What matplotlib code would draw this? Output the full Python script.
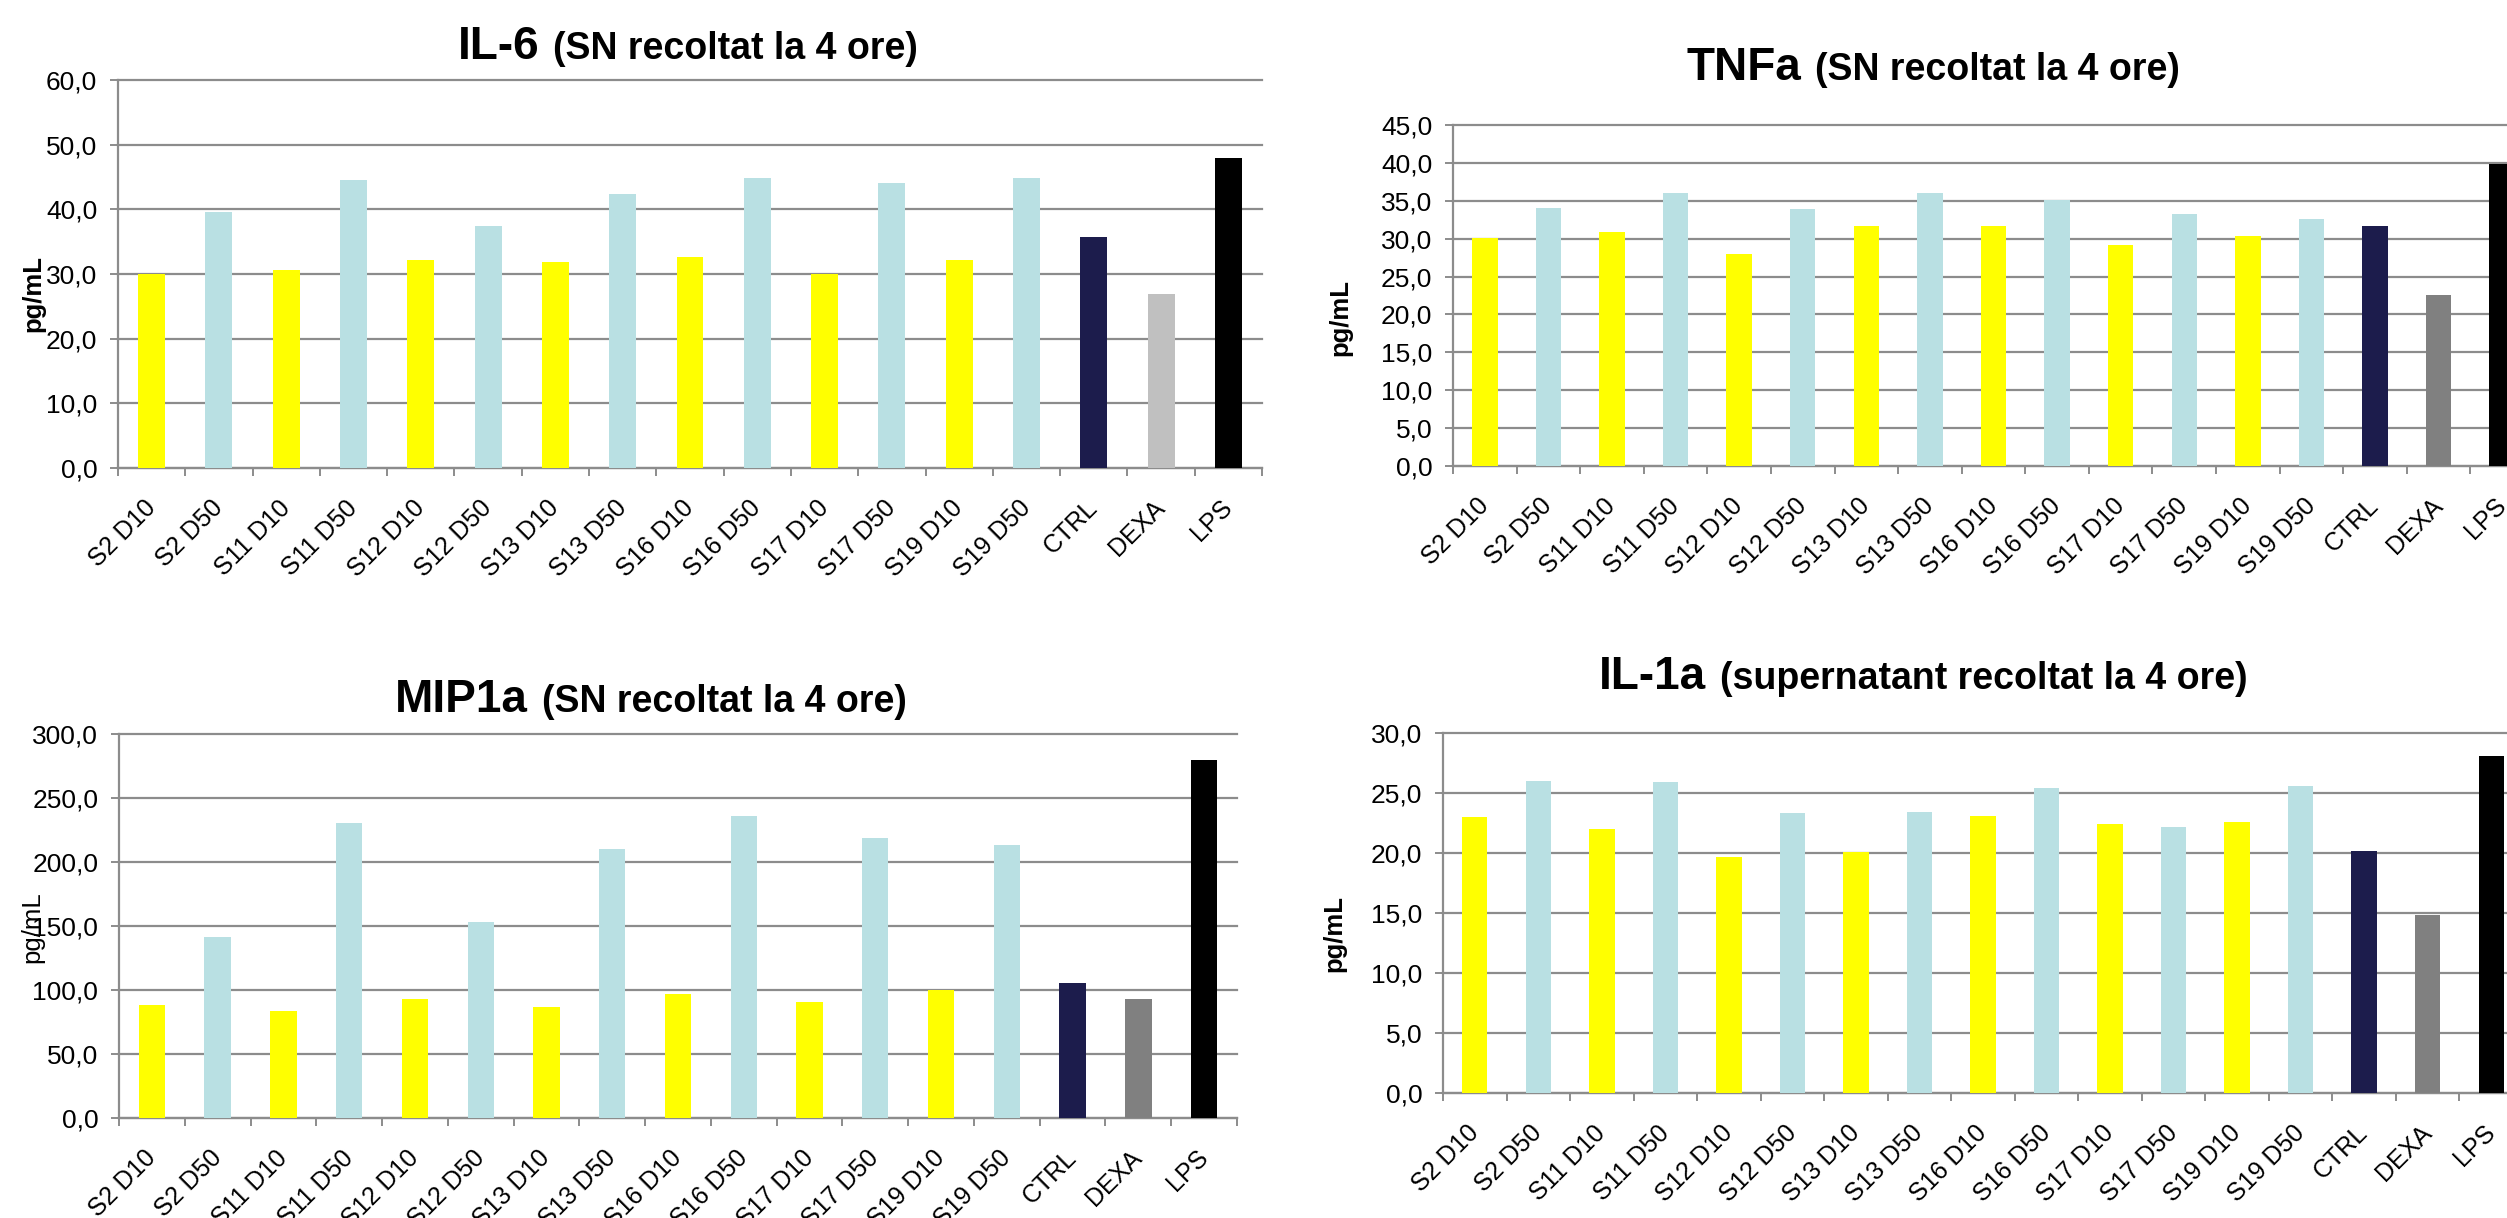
import numpy as np
import matplotlib
matplotlib.use('Agg')
import matplotlib.pyplot as plt
import matplotlib.transforms as mtrans
from matplotlib.ticker import FuncFormatter, FixedLocator

plt.rcParams['font.family'] = ['Liberation Sans', 'DejaVu Sans']

# Date
categorii = ['S2 D10', 'S2 D50', 'S11 D10', 'S11 D50', 'S12 D10', 'S12 D50',
             'S13 D10', 'S13 D50', 'S16 D10', 'S16 D50', 'S17 D10', 'S17 D50',
             'S19 D10', 'S19 D50', 'CTRL', 'DEXA', 'LPS']

il6 = [30.0, 39.6, 30.6, 44.6, 32.1, 37.4, 31.8, 42.4, 32.6, 44.8,
       30.0, 44.1, 32.1, 44.8, 35.7, 26.9, 48.0]
tnfa = [30.1, 34.1, 30.9, 36.0, 28.0, 33.9, 31.7, 36.0, 31.7, 35.1,
        29.1, 33.2, 30.3, 32.6, 31.7, 22.6, 39.9]
mip1a = [88.0, 141.6, 83.4, 230.5, 92.6, 153.2, 87.0, 210.2, 97.1, 236.3,
         90.4, 219.1, 100.2, 213.6, 105.7, 92.6, 279.5]
il1a = [23.0, 26.0, 22.0, 25.9, 19.7, 23.3, 20.1, 23.4, 23.1, 25.4,
        22.4, 22.2, 22.6, 25.6, 20.15, 14.8, 28.05]

galben = '#ffff00'
bleu = '#b9e0e3'
culori_probe = [galben, bleu] * 7
culori_il6 = culori_probe + ['#1c1c4c', '#c0c0c0', '#000000']
culori_alte = culori_probe + ['#1c1c4c', '#808080', '#000000']

W, H = 2507, 1218
fig = plt.figure(figsize=(W / 100, H / 100), dpi=100)

gri = '#8c8c8c'


def virgula(v, pos):
    return ('%.1f' % v).replace('.', ',')


def grafic(box, valori, culori, ymax, pas):
    # box = (stanga, sus, dreapta, jos) in pixeli
    x0, y0, x1, y1 = box
    ax = fig.add_axes([x0 / W, 1 - y1 / H, (x1 - x0) / W, (y1 - y0) / H])
    x = np.arange(len(categorii))
    ax.bar(x, valori, width=0.4, color=culori, zorder=3)
    ax.set_xlim(-0.5, len(categorii) - 0.5)
    ax.set_ylim(0, ymax)
    ax.set_yticks(np.arange(0, ymax + pas / 2, pas))
    ax.yaxis.set_major_formatter(FuncFormatter(virgula))
    ax.set_xticks(x)
    ax.set_xticklabels(categorii, rotation=45, ha='right', va='center',
                       rotation_mode='anchor', fontsize=18)
    dec = mtrans.ScaledTranslation(-6 / 100, 0, fig.dpi_scale_trans)
    for lab in ax.get_xticklabels():
        lab.set_transform(lab.get_transform() + dec)
    ax.xaxis.set_minor_locator(FixedLocator(np.arange(-0.5, len(categorii), 1.0)))
    ax.tick_params(axis='x', which='major', length=0, pad=26)
    ax.tick_params(axis='x', which='minor', length=6, width=1.4, color=gri)
    ax.tick_params(axis='y', length=6, width=1.4, color=gri, labelsize=19, pad=9)
    ax.grid(axis='y', color=gri, linewidth=1.6, zorder=0)
    for g in ax.get_ygridlines():
        g.set_clip_on(False)
    for s in ['top', 'right']:
        ax.spines[s].set_visible(False)
    for s in ['left', 'bottom']:
        ax.spines[s].set_color(gri)
        ax.spines[s].set_linewidth(1.6)
    return ax


grafic((118, 80, 1262, 468), il6, culori_il6, 60, 10)
grafic((1453, 125, 2534, 466), tnfa, culori_alte, 45, 5)
grafic((119, 734, 1237, 1118), mip1a, culori_alte, 300, 50)
grafic((1443, 733, 2523, 1093), il1a, culori_alte, 30, 5)

# etichete axa y
fig.text(33 / W, 1 - 293 / H, 'pg/mL', rotation=90, ha='center', va='center',
         fontsize=18.5, weight='bold')
fig.text(1340 / W, 1 - 318 / H, 'pg/mL', rotation=90, ha='center', va='center',
         fontsize=18.5, weight='bold')
fig.text(32 / W, 1 - 927 / H, 'pg/mL', rotation=90, ha='center', va='center',
         fontsize=18.5)
fig.text(1334 / W, 1 - 934 / H, 'pg/mL', rotation=90, ha='center', va='center',
         fontsize=18.5, weight='bold')

# titluri (parte mare + parte mica)
rend = fig.canvas.get_renderer()


def titlu(mare, mic, cx, baza):
    t1 = fig.text(0, 0, mare, fontsize=33, weight='bold', va='baseline')
    t2 = fig.text(0, 0, mic, fontsize=27, weight='bold', va='baseline')
    w1 = t1.get_window_extent(rend).width
    w2 = t2.get_window_extent(rend).width
    gap = 14
    xs = cx - (w1 + gap + w2) / 2
    t1.set_position((xs / W, 1 - baza / H))
    t2.set_position(((xs + w1 + gap) / W, 1 - baza / H))


titlu('IL-6', '(SN recoltat la 4 ore)', 688, 59)
titlu('TNFa', '(SN recoltat la 4 ore)', 1933, 80)
titlu('MIP1a', '(SN recoltat la 4 ore)', 651, 712)
titlu('IL-1a', '(supernatant recoltat la 4 ore)', 1923, 689)

plt.savefig('out.png', dpi=100)
